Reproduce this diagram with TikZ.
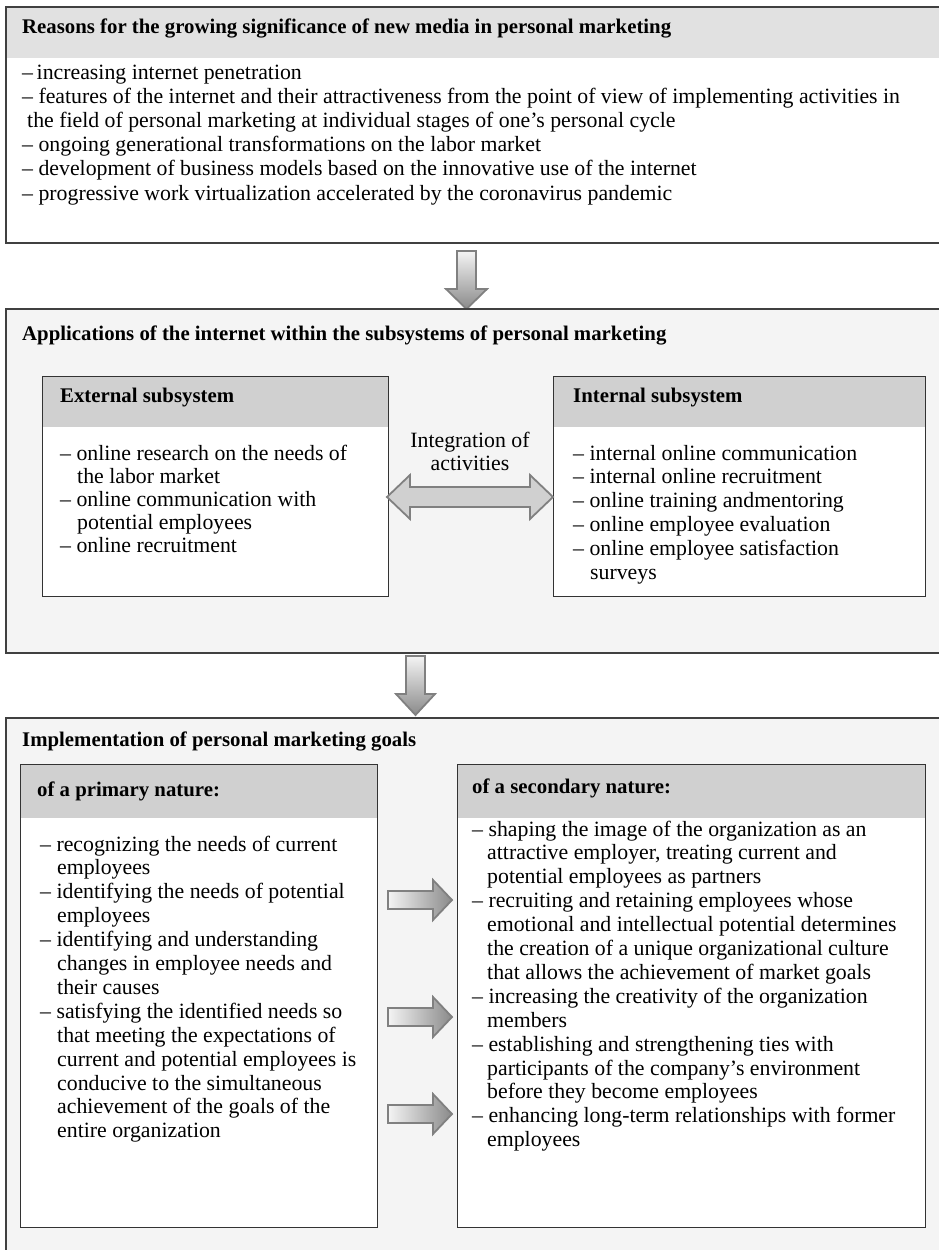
\documentclass[tikz,border=0pt]{standalone}
\usepackage{fontspec}
\setmainfont{Liberation Serif}
\definecolor{bandgray}{HTML}{E1E1E1}
\definecolor{headgray}{HTML}{D0D0D0}
\definecolor{panel}{HTML}{F4F4F4}
\definecolor{arrowedge}{HTML}{808080}
\definecolor{arrowdark}{HTML}{8A8A8A}
\definecolor{arrowlight}{HTML}{F4F4F4}

% one text line per node: name, x, first baseline, line step, list of indent/text
\newcommand\textlines[5]{%
  \foreach \ind/\txt [count=\k] in {#5}{%
    \node[txt] (#1-\k) at ({#2+\ind},{#3+(\k-1)*#4}) {\txt};}}

\begin{document}
\begin{tikzpicture}[x=1pt,y=-1pt,
  txt/.style={anchor=base west, inner sep=0pt, font=\fontsize{21.8}{24}\selectfont},
  ttl/.style={txt, font=\fontsize{20.8}{24}\selectfont\bfseries},
  frame/.style={draw=black!75, line width=1.6pt, anchor=north west, inner sep=0pt},
  card/.style={draw=black!80, line width=1.3pt, fill=white, anchor=north west, inner sep=0pt},
  band/.style 2 args={path picture={\fill[#1] (path picture bounding box.north west)
      rectangle ([yshift=-#2]path picture bounding box.north east);}},
  blockarrow/.style={draw=arrowedge, line width=1.8pt, line join=miter},
]
\useasboundingbox (0,0) rectangle (939,1250);

% ---------- reasons ----------
\node[frame, fill=white, band={bandgray}{51pt}, minimum width=950pt, minimum height=236pt]
  (reasons) at (5,6) {};
\node[ttl] (reasons-title) at (22,33)
  {Reasons for the growing significance of new media in personal marketing};
\textlines{reasons}{22}{79}{24.2}{%
  0/{–\,increasing internet penetration},
  0/{– features of the internet and their attractiveness from the point of view of implementing activities in},
  5/{the field of personal marketing at individual stages of one’s personal cycle},
  0/{– ongoing generational transformations on the labor market},
  0/{– development of business models based on the innovative use of the internet},
  0/{– progressive work virtualization accelerated by the coronavirus pandemic}}

\path[blockarrow, top color=arrowlight, bottom color=arrowdark]
  (457,251) -- (476,251) -- (476,289) -- (487,289) -- (466.5,309)
  -- (446,289) -- (457,289) -- cycle;

% ---------- applications ----------
\node[frame, fill=panel, minimum width=950pt, minimum height=344pt] (apps) at (5,308) {};
\node[ttl] (apps-title) at (22,340)
  {Applications of the internet within the subsystems of personal marketing};

\node[card, band={headgray}{50pt}, minimum width=346pt, minimum height=220pt] (ext) at (42,376) {};
\node[ttl] (ext-title) at (60,402) {External subsystem};
\textlines{ext}{60}{460}{23.2}{%
  0/{– online research on the needs of},
  17/{the labor market},
  0/{– online communication with},
  17/{potential employees},
  0/{– online recruitment}}

\node[card, band={headgray}{50pt}, minimum width=372pt, minimum height=220pt] (int) at (553,376) {};
\node[ttl] (int-title) at (573,402) {Internal subsystem};
\textlines{int}{573}{460}{23.8}{%
  0/{– internal online communication},
  0/{– internal online recruitment},
  0/{– online training andmentoring},
  0/{– online employee evaluation},
  0/{– online employee satisfaction},
  17/{surveys}}

\node[txt, anchor=base] (integ1) at (470,447) {Integration of};
\node[txt, anchor=base] (integ2) at (470,470) {activities};
\path[blockarrow, fill=headgray]
  (387,497) -- (410,475) -- (410,487) -- (530,487) -- (530,475) -- (553,497)
  -- (530,519) -- (530,507) -- (410,507) -- (410,519) -- cycle;

\path[blockarrow, top color=arrowlight, bottom color=arrowdark]
  (406,656) -- (425,656) -- (425,694) -- (435,694) -- (415.5,715)
  -- (396,694) -- (406,694) -- cycle;

% ---------- goals ----------
\node[frame, fill=panel, minimum width=950pt, minimum height=560pt] (goals) at (5,717) {};
\node[ttl] (goals-title) at (22,746) {Implementation of personal marketing goals};

\node[card, band={headgray}{53pt}, minimum width=357pt, minimum height=463pt] (prim) at (20,764) {};
\node[ttl] (prim-title) at (37,796) {of a primary nature:};
\textlines{prim}{40}{851}{23.9}{%
  0/{– recognizing the needs of current},
  17/{employees},
  0/{– identifying the needs of potential},
  17/{employees},
  0/{– identifying and understanding},
  17/{changes in employee needs and},
  17/{their causes},
  0/{– satisfying the identified needs so},
  17/{that meeting the expectations of},
  17/{current and potential employees is},
  17/{conducive to the simultaneous},
  17/{achievement of the goals of the},
  17/{entire organization}}

\node[card, band={headgray}{53pt}, minimum width=468pt, minimum height=463pt] (sec) at (457,764) {};
\node[ttl] (sec-title) at (472,793) {of a secondary nature:};
\textlines{sec}{472}{836}{23.9}{%
  0/{– shaping the image of the organization as an},
  15/{attractive employer, treating current and},
  15/{potential employees as partners},
  0/{– recruiting and retaining employees whose},
  15/{emotional and intellectual potential determines},
  15/{the creation of a unique organizational culture},
  15/{that allows the achievement of market goals},
  0/{– increasing the creativity of the organization},
  15/{members},
  0/{– establishing and strengthening ties with},
  15/{participants of the company’s environment},
  15/{before they become employees},
  0/{– enhancing long-term relationships with former},
  15/{employees}}

\foreach \c in {900,1017,1114}{
  \path[blockarrow, left color=arrowlight, right color=arrowdark]
    (388,\c-9) -- (433,\c-9) -- (433,\c-20) -- (452,\c) -- (433,\c+20)
    -- (433,\c+9) -- (388,\c+9) -- cycle;}

\end{tikzpicture}
\end{document}
